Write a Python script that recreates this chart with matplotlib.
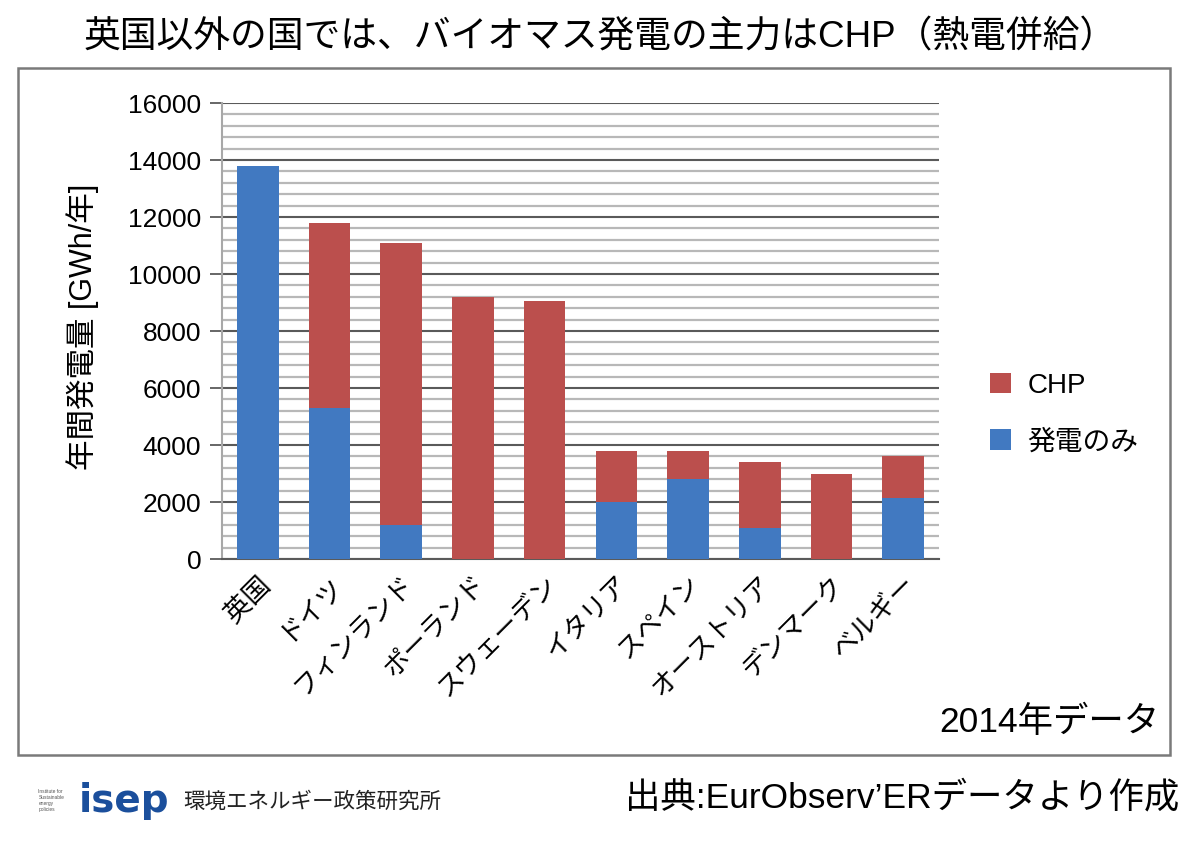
import matplotlib
matplotlib.use('Agg')
import matplotlib.pyplot as plt
from matplotlib.patches import Rectangle
from matplotlib.ticker import MultipleLocator

plt.rcParams['font.family'] = ['Liberation Sans', 'Noto Sans CJK JP', 'DejaVu Sans']

# 2014 data (GWh/year)
countries = ['英国', 'ドイツ', 'フィンランド', 'ポーランド', 'スウェーデン',
             'イタリア', 'スペイン', 'オーストリア', 'デンマーク', 'ベルギー']
power_only = [13800, 5300, 1200, 0, 0, 2000, 2800, 1100, 0, 2150]
chp = [0, 6500, 9900, 9200, 9050, 1800, 1000, 2300, 3000, 1450]
y_ticks = [0, 2000, 4000, 6000, 8000, 10000, 12000, 14000, 16000]

blue = '#4179c1'
red = '#bb4f4d'

fig = plt.figure(figsize=(12, 8.41), dpi=100)

# outer frame
fig.patches.append(Rectangle((0.015, 0.1023), 0.96, 0.817, transform=fig.transFigure,
                             fill=False, edgecolor='#7a7a7a', linewidth=1.8))

ax = fig.add_axes([0.185, 0.3353, 0.5975, 0.5422])
x = range(len(countries))
ax.bar(x, power_only, width=0.58, color=blue, label='発電のみ', zorder=3)
ax.bar(x, chp, width=0.58, bottom=power_only, color=red, label='CHP', zorder=3)

ax.set_xlim(-0.5, len(countries) - 0.5)
ax.set_ylim(0, 16000)
ax.set_yticks(y_ticks)
ax.yaxis.set_minor_locator(MultipleLocator(400))
ax.grid(axis='y', which='major', color='#5a5a5a', linewidth=1.5, zorder=1)
ax.grid(axis='y', which='minor', color='#b8b8b8', linewidth=1.6, zorder=0)
ax.tick_params(axis='y', which='major', length=9, width=1.3, color='#5a5a5a',
               labelsize=19, pad=6)
ax.tick_params(axis='y', which='minor', length=0)
ax.tick_params(axis='x', length=0, pad=9)
for sp in ['top', 'right']:
    ax.spines[sp].set_visible(False)
ax.spines['left'].set_color('#a8a8a8')
ax.spines['left'].set_linewidth(1.5)
ax.spines['bottom'].set_color('#5a5a5a')
ax.spines['bottom'].set_linewidth(1.5)

ax.set_xticks(list(x))
ax.set_xticklabels(countries, rotation=45, ha='right', va='top',
                   rotation_mode='anchor', fontsize=19)
ax.set_ylabel('年間発電量 [GWh/年]', fontsize=22)
ax.yaxis.set_label_coords(-0.172, 0.509)

handles, labels = ax.get_legend_handles_labels()
ax.legend(handles[::-1], labels[::-1], loc='center left', bbox_to_anchor=(1.071, 0.318),
          frameon=False, fontsize=20, handlelength=0.75, handleheight=0.75,
          labelspacing=1.1, handletextpad=0.6, borderpad=0, borderaxespad=0)

fig.text(0.5, 0.955, '英国以外の国では、バイオマス発電の主力はCHP（熱電併給）',
         ha='center', va='center', fontsize=26.5)
fig.text(0.966, 0.141, '2014年データ', ha='right', va='center', fontsize=25.5)
fig.text(0.983, 0.052, '出典:EurObserv\u2019ERデータより作成', ha='right', va='center',
         fontsize=25.5)

# footer logo
fig.text(0.032, 0.048, 'Institute for\nSustainable\nenergy\npolicies', ha='left',
         va='center', fontsize=3.5, color='#555555', linespacing=1.3)
fig.text(0.066, 0.047, 'isep', ha='left', va='center', fontsize=28,
         fontweight='bold', color='#1b4f9c', family=['DejaVu Sans'])
fig.text(0.153, 0.046, '環境エネルギー政策研究所', ha='left', va='center',
         fontsize=15.5, color='#222222')

fig.savefig('out.png', dpi=100)
